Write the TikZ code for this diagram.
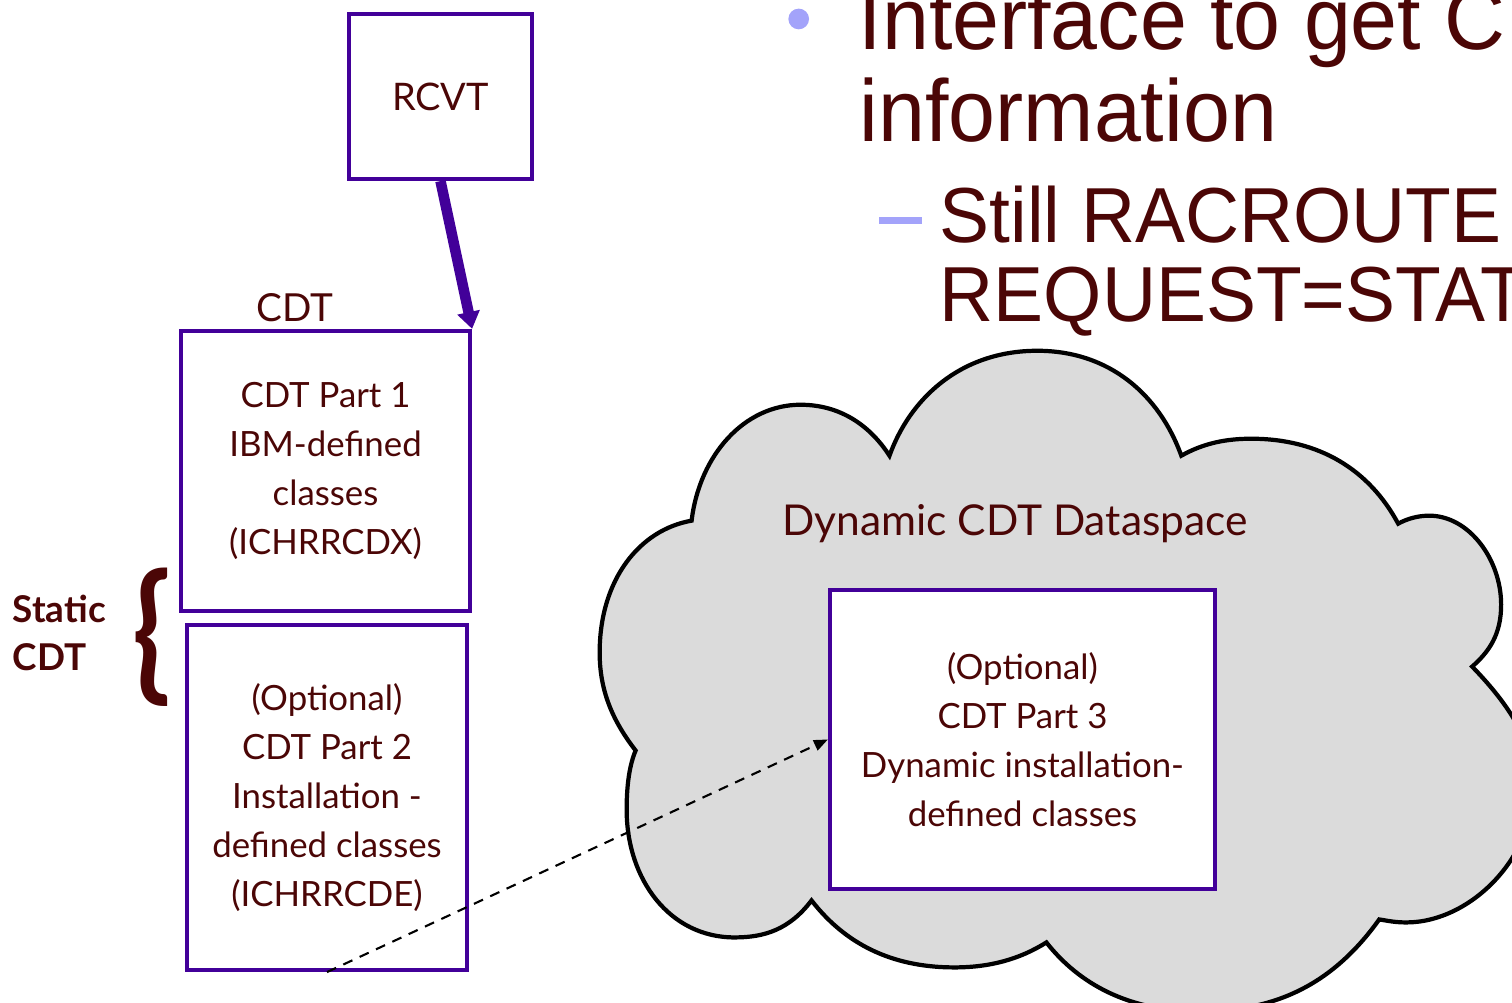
\documentclass[tikz,border=0pt]{standalone}
\usepackage{fontspec}
\setmainfont{Lato}
\newfontfamily\slidefont[FakeStretch=0.96]{Liberation Sans}
\usetikzlibrary{arrows.meta,positioning}
\definecolor{darkred}{HTML}{4B0606}
\definecolor{boxpurple}{HTML}{420099}
\definecolor{cloudgray}{HTML}{DBDBDB}
\definecolor{bulletblue}{HTML}{A3A3FA}

\begin{document}
\begin{tikzpicture}[
  box/.style={draw=boxpurple,line width=1.2pt,align=center,text=darkred,font=\fontsize{9.9}{14}\selectfont},
  lbl/.style={text=darkred,font=\fontsize{11}{12}\selectfont},
  slide/.style={anchor=base west,inner sep=0,text=darkred},
  feed/.style={draw=boxpurple,line width=3pt,-{Triangle[length=1.7mm,width=2.2mm]}},
  link/.style={draw=black,line width=0.6pt,dash pattern=on 1mm off 0.8mm,-{Triangle[length=1.4mm,width=1.1mm]}}
]
\useasboundingbox (0,0) rectangle (15.12,10.03);
\clip (0,0) rectangle (15.12,10.03);

% dataspace cloud, traced in pixel units from the top left
\begin{scope}[shift={(0,10.03)},x=0.01cm,y=-0.01cm]
\draw[fill=cloudgray,line width=1.2pt]
  (692,521) .. controls (700,455) and (745,405) .. (801,405)
  .. controls (840,405) and (870,425) .. (890,456)
  .. controls (910,400) and (960,351) .. (1038,351)
  .. controls (1110,351) and (1160,395) .. (1182,456)
  .. controls (1205,443) and (1228,439) .. (1252,439)
  .. controls (1320,439) and (1370,470) .. (1399,524)
  .. controls (1408,519) and (1419,516) .. (1430,516)
  .. controls (1470,516) and (1502,560) .. (1502,605)
  .. controls (1502,635) and (1490,652) .. (1473,667)
  .. controls (1505,700) and (1535,740) .. (1535,785)
  .. controls (1535,860) and (1470,923) .. (1407,923)
  .. controls (1395,923) and (1387,921) .. (1380,920)
  .. controls (1330,990) and (1270,1012) .. (1200,1012)
  .. controls (1130,1012) and (1080,985) .. (1047,943)
  .. controls (1020,960) and (990,968) .. (955,968)
  .. controls (900,968) and (850,950) .. (812,901)
  .. controls (790,930) and (765,938) .. (735,938)
  .. controls (670,938) and (627,880) .. (627,810)
  .. controls (627,785) and (630,765) .. (636,751)
  .. controls (612,720) and (600,690) .. (600,653)
  .. controls (600,580) and (640,530) .. cycle;
\end{scope}

% slide bullets
\node[circle,fill=bulletblue,minimum size=2.07mm,inner sep=0] (dot) at (7.987,9.84) {};
\node[fill=bulletblue,minimum width=4.3mm,minimum height=0.65mm,inner sep=0] (dash) at (9.005,7.823) {};
\node[slide,font=\slidefont\fontsize{25}{26}\selectfont] (l1) at (8.58,9.537) {Interface to get C};
\node[slide,font=\slidefont\fontsize{25}{26}\selectfont] (l2) at (8.59,8.613) {information};
\node[slide,font=\slidefont\fontsize{22.2}{24}\selectfont] (l3) at (9.39,7.603) {Still RACROUTE};
\node[slide,font=\slidefont\fontsize{22.2}{24}\selectfont] (l4) at (9.39,6.813) {REQUEST=STAT};

% control blocks
\node[box,minimum width=1.83cm,minimum height=1.65cm,font=\fontsize{10.8}{12}\selectfont] (rcvt) at (4.405,9.065) {RCVT};
\node[lbl] (cdt) at (2.95,6.95) {CDT};
\node[box,minimum width=2.89cm,minimum height=2.80cm] (part1) at (3.255,5.32) {CDT Part 1\\IBM-defined\\classes\\(ICHRRCDX)};
\node[box,minimum width=2.80cm,minimum height=3.45cm] (part2) at (3.27,2.055) {(Optional)\\CDT Part 2\\Installation -\\defined classes\\(ICHRRCDE)};
\node[box,fill=white,minimum width=3.85cm,minimum height=2.99cm] (part3) at (10.225,2.635) {(Optional)\\CDT Part 3\\Dynamic installation-\\defined classes};
\node[lbl,anchor=base,font=\fontsize{12.1}{14}\selectfont] (space) at (10.15,4.677) {Dynamic CDT Dataspace};

% static part marker
\node[lbl,font=\bfseries\fontsize{10.5}{13.5}\selectfont,align=left,anchor=west,inner sep=0] (static) at (0.12,3.70) {Static\\CDT};
\node[text=darkred,font=\bfseries\fontsize{36}{36}\selectfont,inner sep=0] (brace) at (1.52,3.66) {\scalebox{1}[1.18]{\{}};

\draw[feed] (rcvt.south) -- (part1.north east);
\draw[link] (part2.south) -- (part3.west);
\end{tikzpicture}
\end{document}
